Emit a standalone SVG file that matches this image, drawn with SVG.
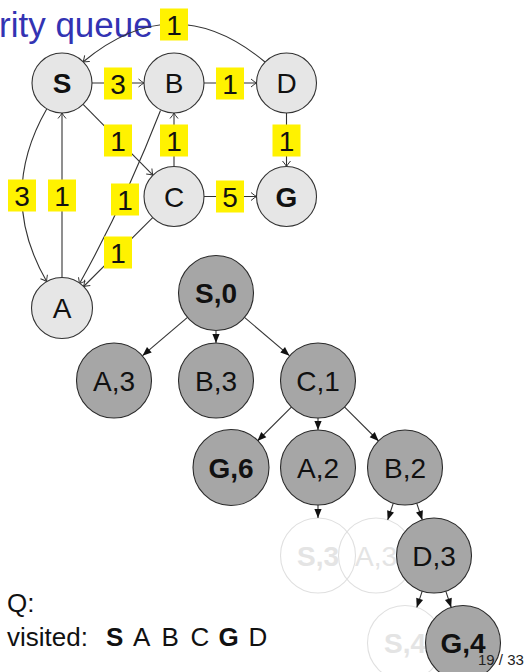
<svg xmlns="http://www.w3.org/2000/svg" width="527" height="672" viewBox="0 0 527 672">
<defs>
<style>
text{font-family:"Liberation Sans",Arial,sans-serif}
.title{font-size:35px;fill:#3333b3}
.gn circle{fill:#e6e6e6;stroke:#333;stroke-width:1.1}
.gn text,.tn text,.fn text,.lb text{font-size:28px;text-anchor:middle;fill:#111}
.b{font-weight:bold}
.ge path{fill:none;stroke:#333;stroke-width:1.1;marker-end:url(#open)}
.lb rect{fill:#fff200}
.te path{fill:none;stroke:#333;stroke-width:1.1;marker-end:url(#tri)}
.tn circle{fill:#a6a6a6;stroke:#2a2a2a;stroke-width:1.1}
.fn circle{fill:none;stroke:#e0e0e0;stroke-width:1.1}
.fn text{fill:#e4e4e4}
.foot{font-size:26px;fill:#111}
.pg{font-size:15px;fill:#222}
</style>
<marker id="open" viewBox="-7 -5 8 10" refX="0" refY="0" markerWidth="8" markerHeight="10" orient="auto" markerUnits="userSpaceOnUse"><path d="M-5.5,-4 Q-2,-1 0,0 Q-2,1 -5.5,4" fill="none" stroke="#333" stroke-width="1"/></marker>
<marker id="tri" viewBox="-10 -5 11 10" refX="0" refY="0" markerWidth="11" markerHeight="10" orient="auto" markerUnits="userSpaceOnUse"><path d="M0,0 L-9,-3.6 L-9,3.6 z" fill="#111"/></marker>
</defs>

<text class="title" x="-1" y="37">rity queue</text>

<g id="graph-edges" class="ge">
<path d="M265,62 Q174,-14 83,62"/>
<path d="M92,83 L144,83"/>
<path d="M204,83 L256.5,83"/>
<path d="M174,166.5 L174,113"/>
<path d="M286.5,113 L286.5,166.5"/>
<path d="M204,196.5 L256.5,196.5"/>
<path d="M83.1,104.4 L152.9,175.2"/>
<path d="M62,277.5 L62,113"/>
<path d="M152.7,217.7 L83.6,286.5"/>
<path d="M160.5,110.5 Q124,204 79.3,284"/>
<path d="M46.7,109 Q-3,195.5 46.7,281.5"/>
</g>

<g id="node-S" class="gn"><circle cx="62" cy="83" r="30"/><text class="b" x="62" y="93">S</text></g>
<g id="node-B" class="gn"><circle cx="174" cy="83" r="30"/><text x="174" y="93">B</text></g>
<g id="node-D" class="gn"><circle cx="286.5" cy="83" r="30"/><text x="286.5" y="93">D</text></g>
<g id="node-C" class="gn"><circle cx="174" cy="196.5" r="30"/><text x="174" y="206.5">C</text></g>
<g id="node-G" class="gn"><circle cx="286.5" cy="196.5" r="30"/><text class="b" x="286.5" y="206.5">G</text></g>
<g id="node-A" class="gn"><circle cx="62" cy="308" r="30.5"/><text x="62" y="318">A</text></g>

<g id="edge-labels" class="lb">
<rect x="160" y="8.5" width="28" height="32"/><text x="174" y="34.5">1</text>
<rect x="104" y="67.5" width="28" height="32"/><text x="118" y="93.5">3</text>
<rect x="216" y="67.5" width="28" height="32"/><text x="230" y="93.5">1</text>
<rect x="104" y="124.5" width="28" height="32"/><text x="118" y="150.5">1</text>
<rect x="160" y="124.5" width="28" height="32"/><text x="174" y="150.5">1</text>
<rect x="272.5" y="124.5" width="28" height="32"/><text x="286.5" y="150.5">1</text>
<rect x="8" y="179.5" width="28" height="32"/><text x="22" y="205.5">3</text>
<rect x="48" y="179.5" width="28" height="32"/><text x="62" y="205.5">1</text>
<rect x="111" y="183.5" width="28" height="32"/><text x="125" y="209.5">1</text>
<rect x="216" y="180.5" width="28" height="32"/><text x="230" y="206.5">5</text>
<rect x="104" y="236.5" width="28" height="32"/><text x="118" y="262.5">1</text>
</g>

<g id="faded-S3" class="fn"><circle cx="318" cy="555.5" r="37.5"/><text class="b" x="318" y="565.5">S,3</text></g>
<g id="faded-A3" class="fn"><circle cx="376" cy="555.5" r="37.5"/><text x="376" y="565.5">A,3</text></g>
<g id="faded-S4" class="fn"><circle cx="405" cy="643" r="37.5"/><text class="b" x="405" y="653">S,4</text></g>

<g id="tree-edges" class="te">
<path d="M187.5,317.3 L142.5,355.7"/>
<path d="M216,331 L216,343"/>
<path d="M244.5,317.3 L289.5,355.7"/>
<path d="M291.6,406.9 L257.4,441"/>
<path d="M318,418 L318,430"/>
<path d="M344.4,406.9 L378.6,441"/>
<path d="M318,505 L318,518"/>
<path d="M393.3,503.1 L387.7,519.9"/>
<path d="M416.7,503.1 L422.3,519.9"/>
<path d="M422.2,591.1 L416.8,607.4"/>
<path d="M445.8,591.1 L451.2,607.4"/>
</g>

<g id="tree-S0" class="tn"><circle cx="216" cy="293" r="37.5"/><text class="b" x="216" y="303">S,0</text></g>
<g id="tree-A3" class="tn"><circle cx="114" cy="380.5" r="37.5"/><text x="114" y="390.5">A,3</text></g>
<g id="tree-B3" class="tn"><circle cx="216" cy="380.5" r="37.5"/><text x="216" y="390.5">B,3</text></g>
<g id="tree-C1" class="tn"><circle cx="318" cy="380.5" r="37.5"/><text x="318" y="390.5">C,1</text></g>
<g id="tree-G6" class="tn"><circle cx="231" cy="467.5" r="38"/><text class="b" x="231" y="477.5">G,6</text></g>
<g id="tree-A2" class="tn"><circle cx="318" cy="467.5" r="37.5"/><text x="318" y="477.5">A,2</text></g>
<g id="tree-B2" class="tn"><circle cx="405" cy="467.5" r="37.5"/><text x="405" y="477.5">B,2</text></g>
<g id="tree-D3" class="tn"><circle cx="434" cy="555.5" r="37.5"/><text x="434" y="565.5">D,3</text></g>
<g id="tree-G4" class="tn"><circle cx="463" cy="643" r="37.5"/><text class="b" x="463" y="653">G,4</text></g>

<text class="foot" x="7" y="612">Q:</text>
<text class="foot" y="646"><tspan x="7">visited:</tspan><tspan x="106" font-weight="bold">S</tspan><tspan x="133">A</tspan><tspan x="161.5">B</tspan><tspan x="190.5">C</tspan><tspan x="218.5" font-weight="bold">G</tspan><tspan x="248.5">D</tspan></text>

<text class="pg" x="478" y="665">19 / 33</text>
</svg>
